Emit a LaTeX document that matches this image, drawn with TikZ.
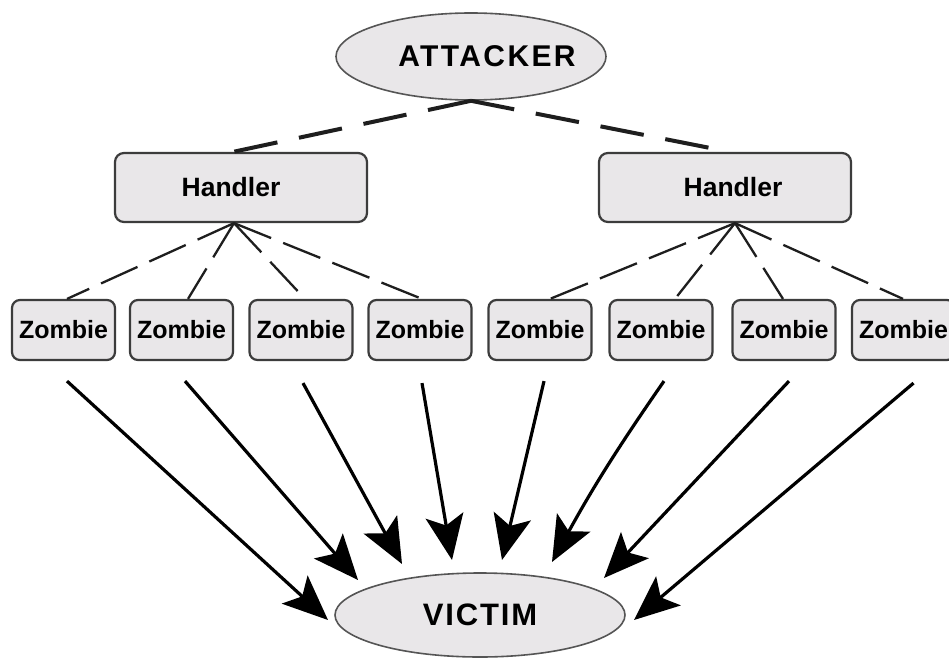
\documentclass[tikz,border=0pt]{standalone}
\usepackage{fontspec}
\setmainfont{Liberation Sans}
\usetikzlibrary{arrows.meta,shapes.geometric}
\definecolor{boxfill}{RGB}{233,231,233}
\definecolor{boxline}{RGB}{60,60,60}
\definecolor{ellline}{RGB}{85,85,85}
\definecolor{dashcol}{RGB}{30,30,30}
\begin{document}
\begin{tikzpicture}[x=1pt,y=-1pt,
 ell/.style={ellipse, draw=ellline, line width=1.6pt, fill=boxfill, inner sep=0pt},
 hbox/.style={rectangle, rounded corners=9pt, draw=boxline, line width=2.2pt, fill=boxfill,
   minimum width=252pt, minimum height=69pt, inner sep=0pt},
 zbox/.style={rectangle, rounded corners=8pt, draw=boxline, line width=2.2pt, fill=boxfill,
   minimum width=103pt, minimum height=60pt, inner sep=0pt,
   font=\fontsize{25}{25}\selectfont\bfseries},
 biglbl/.style={inner sep=0pt, font=\fontsize{30}{30}\selectfont\bfseries\addfontfeatures{LetterSpace=8}},
 hlbl/.style={inner sep=0pt, font=\fontsize{26.5}{26.5}\selectfont\bfseries},
 thickdash/.style={draw=dashcol, line width=4pt, dash pattern=on 44pt off 22pt},
 thindash/.style={draw=dashcol, line width=2.3pt, dash pattern=on 40pt off 13pt},
 arr/.style={line width=3.2pt, -{Stealth[length=45pt,width=38pt,inset=10pt]}}
]
\useasboundingbox (0,0) rectangle (949,658);
\fill[white] (0,0) rectangle (949,658);

% top and bottom ellipses
\node[ell, minimum width=270pt, minimum height=87pt] (attacker) at (471,56.5) {};
\node[biglbl] (attackerlbl) at (487,56) {ATTACKER};
\node[ell, minimum width=290pt, minimum height=84pt] (victim) at (480,615) {};
\node[biglbl, font=\fontsize{31}{31}\selectfont\bfseries\addfontfeatures{LetterSpace=6}] (victimlbl) at (480,615) {VICTIM};

% handlers
\node[hbox] (h1) at (241,187.5) {};
\node[hlbl] (h1lbl) at (231,187) {Handler};
\node[hbox] (h2) at (725,187.5) {};
\node[hlbl] (h2lbl) at (733,187) {Handler};

% zombies
\node[zbox] (z1) at (63.5,330) {Zombie};
\node[zbox] (z2) at (181.5,330) {Zombie};
\node[zbox] (z3) at (301,330) {Zombie};
\node[zbox] (z4) at (420,330) {Zombie};
\node[zbox] (z5) at (540,330) {Zombie};
\node[zbox] (z6) at (661,330) {Zombie};
\node[zbox] (z7) at (784,330) {Zombie};
\node[zbox] (z8) at (903.5,330) {Zombie};

% attacker to handlers
\draw[thickdash] (attacker.south) -- ([xshift=-8pt]h1.north);
\draw[thickdash] (attacker.south) -- ([xshift=5pt]h2.north);

% handlers to zombies
\draw[thindash] ([xshift=-7pt]h1.south) -- ([xshift=3.5pt]z1.north);
\draw[thindash] ([xshift=-7pt]h1.south) -- ([xshift=6.5pt]z2.north);
\draw[thindash] ([xshift=-7pt]h1.south) -- ([xshift=4pt]z3.north);
\draw[thindash] ([xshift=-7pt]h1.south) -- ([xshift=2pt]z4.north);
\draw[thindash] ([xshift=10pt]h2.south) -- ([xshift=10pt]z5.north);
\draw[thindash] ([xshift=10pt]h2.south) -- ([xshift=14pt]z6.north);
\draw[thindash] ([xshift=10pt]h2.south) -- ([xshift=-1pt]z7.north);
\draw[thindash] ([xshift=10pt]h2.south) -- ([xshift=-0.5pt]z8.north);

% zombies to victim
\draw[arr] ([xshift=3.5pt,yshift=-20pt]z1.south) -- ([shift={(-152pt,-5pt)}]victim.center);
\draw[arr] ([xshift=3.5pt,yshift=-20pt]z2.south) -- ([shift={(-122pt,35pt)}]victim.center);
\draw[arr] ([xshift=2pt,yshift=-22pt]z3.south) -- ([shift={(-78pt,51pt)}]victim.center);
\draw[arr] ([xshift=2pt,yshift=-22pt]z4.south) -- ([shift={(-28pt,55pt)}]victim.center);
\draw[arr] ([xshift=4pt,yshift=-20pt]z5.south) -- ([shift={(22pt,55pt)}]victim.center);
\draw[arr] ([xshift=3pt,yshift=-20pt]z6.south) to[bend right=3] ([shift={(72pt,53pt)}]victim.center);
\draw[arr] ([xshift=5pt,yshift=-20pt]z7.south) -- ([shift={(124pt,37pt)}]victim.center);
\draw[arr] ([xshift=10pt,yshift=-22pt]z8.south) -- ([shift={(154pt,-5pt)}]victim.center);
\end{tikzpicture}
\end{document}
